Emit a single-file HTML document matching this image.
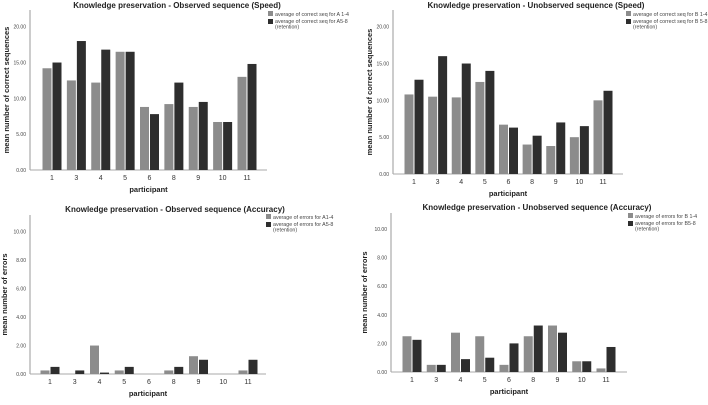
<!DOCTYPE html>
<html><head><meta charset="utf-8"><style>
body{margin:0;background:#fff;width:708px;height:400px;overflow:hidden}
svg{font-family:"Liberation Sans",sans-serif}
</style></head><body>
<svg id="c" width="708" height="400"></svg>
<script>
const categories=["1","3","4","5","6","8","9","10","11"];
const obsSpeedA=[14.2,12.5,12.2,16.5,8.8,9.2,8.8,6.7,13];
const obsSpeedB=[15,18,16.8,16.5,7.8,12.2,9.5,6.7,14.8];
const unobsSpeedA=[10.8,10.5,10.4,12.5,6.7,4,3.8,5,10];
const unobsSpeedB=[12.8,16,15,14,6.3,5.2,7,6.5,11.3];
const obsAccA=[0.25,0,2,0.25,0,0.25,1.25,0,0.25];
const obsAccB=[0.5,0.25,0.1,0.5,0,0.5,1,0,1];
const unobsAccA=[2.5,0.5,2.75,2.5,0.5,2.5,3.25,0.75,0.25];
const unobsAccB=[2.25,0.5,0.9,1,2,3.25,2.75,0.75,1.75];
const speedTicks=[0,5,10,15,20];
const accTicks=[0,2,4,6,8,10];
const NS="http://www.w3.org/2000/svg";
const svg=document.getElementById('c');
function mk(tag,attrs,parent,text){const e=document.createElementNS(NS,tag);for(const k in attrs)e.setAttribute(k,attrs[k]);if(text!==undefined)e.textContent=text;parent.appendChild(e);return e;}
function panel(p){
  const g=mk('g',{},svg);
  
  
  const y=v=>p.base-(v/p.vmax)*(p.base-p.vtop);
  const x=i=>p.g1+i*(p.g11-p.g1)/(categories.length-1);
  const t=mk('text',{x:p.tx,y:p.ty,'text-anchor':'middle','font-size':'8','font-weight':'bold',fill:'#222'},g,p.title);
  
  
  const ax=mk('line',{x1:p.x0,y1:p.base,x2:p.x0,y2:p.atop,stroke:'#bbb','stroke-width':1.5},g);
  
  
  const bx=mk('line',{x1:p.x0,y1:p.base,x2:p.x1,y2:p.base,stroke:'#aaa','stroke-width':1},g);
  
  
  p.ticks.forEach(v=>{
    const tl=mk('text',{x:p.x0-4,y:y(v)+2,'text-anchor':'end','font-size':'5',fill:'#444'},g,v.toFixed(2));
    
    
  });
  const bw=9;
  categories.forEach((c,i)=>{
    const cx=x(i);
    const ra=mk('rect',{x:cx-bw-0.5,y:y(p.a[i]),width:bw,height:p.base-y(p.a[i]),fill:'#8c8c8c'},g);
    
    
    const rb=mk('rect',{x:cx+0.5,y:y(p.b[i]),width:bw,height:p.base-y(p.b[i]),fill:'#2e2e2e'},g);
    
    
    const xl=mk('text',{x:cx,y:p.base+10,'text-anchor':'middle','font-size':'7',fill:'#333'},g,c);
    
    
  });
  const xt=mk('text',{x:(p.x0+p.x1)/2,y:p.base+22,'text-anchor':'middle','font-size':'7.5','font-weight':'bold',fill:'#222'},g,'participant');
  
  
  const yt=mk('text',{x:0,y:0,'text-anchor':'middle','font-size':'7.5','font-weight':'bold',fill:'#222',transform:`translate(${p.ytx},${(p.base+p.atop)/2}) rotate(-90)`},g,p.ytitle);
  
  
  const lg=mk('g',{},g);
  
  
  mk('rect',{x:p.lx,y:p.ly-5,width:5,height:5,fill:'#8c8c8c'},lg);
  mk('text',{x:p.lx+7,y:p.ly,'font-size':'5.3',fill:'#444'},lg,p.la);
  mk('rect',{x:p.lx,y:p.ly+3,width:5,height:5,fill:'#2e2e2e'},lg);
  mk('text',{x:p.lx+7,y:p.ly+7,'font-size':'5.3',fill:'#444'},lg,p.lb);
  mk('text',{x:p.lx+7,y:p.ly+12.5,'font-size':'5.3',fill:'#444'},lg,'(retention)');
}
panel({name:'observed-speed-panel',title:'Knowledge preservation - Observed sequence (Speed)',tx:177,ty:8,x0:30,x1:267,base:170,vtop:26.7,vmax:20,atop:10,g1:52,g11:247,ticks:speedTicks,a:obsSpeedA,b:obsSpeedB,ytx:9,ytitle:'mean number of correct sequences',lx:268,ly:16,la:'average of correct seq for A 1-4',lb:'average of correct seq for A5-8'});
panel({name:'unobserved-speed-panel',title:'Knowledge preservation - Unobserved sequence (Speed)',tx:536,ty:8,x0:393,x1:623,base:174,vtop:26.7,vmax:20,atop:10,g1:414,g11:603,ticks:speedTicks,a:unobsSpeedA,b:unobsSpeedB,ytx:372,ytitle:'mean number of correct sequences',lx:626,ly:16,la:'average of correct seq for B 1-4',lb:'average of correct seq for B 5-8'});
panel({name:'observed-accuracy-panel',title:'Knowledge preservation - Observed sequence (Accuracy)',tx:175,ty:212,x0:30,x1:266,base:374,vtop:231.7,vmax:10,atop:215,g1:50,g11:248,ticks:accTicks,a:obsAccA,b:obsAccB,ytx:7,ytitle:'mean number of errors',lx:266,ly:219,la:'average of errors for A1-4',lb:'average of errors for A5-8'});
panel({name:'unobserved-accuracy-panel',title:'Knowledge preservation - Unobserved sequence (Accuracy)',tx:537,ty:210,x0:391,x1:627,base:372,vtop:229,vmax:10,atop:213,g1:412,g11:606,ticks:accTicks,a:unobsAccA,b:unobsAccB,ytx:367,ytitle:'mean number of errors',lx:628,ly:218,la:'average of errors for B 1-4',lb:'average of errors for B5-8'});
</script>
</body></html>
